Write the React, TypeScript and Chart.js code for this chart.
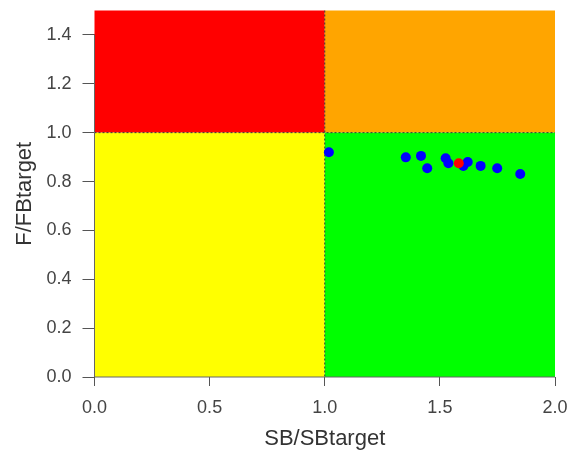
import React, { useEffect, useRef } from "react";
import { Chart, registerables } from "chart.js";

Chart.register(...registerables);

// Historical stock status points (blue)
const sbRatio = [1.018, 1.352, 1.418, 1.445, 1.525, 1.537, 1.602, 1.621, 1.677, 1.749, 1.849];
const fRatio = [0.92, 0.899, 0.905, 0.854, 0.895, 0.875, 0.864, 0.88, 0.864, 0.854, 0.831];
// Current status point (red)
const currentSb = [1.582];
const currentF = [0.875];

const xTicks = [0, 0.5, 1.0, 1.5, 2.0];
const yTicks = [0, 0.2, 0.4, 0.6, 0.8, 1.0, 1.2, 1.4];
const xRange = [0, 2];
const yRange = [0, 1.5];
const refX = 1.0;
const refY = 1.0;

const xTitle = "SB/SBtarget";
const yTitle = "F/FBtarget";

const FONT = "'Liberation Sans', Arial, Helvetica, sans-serif";

const quadrantPlugin = {
  id: "quadrants",
  beforeDatasetsDraw(chart: any) {
    const { ctx, scales } = chart;
    const xs = scales.x;
    const ys = scales.y;
    const x0 = xs.getPixelForValue(xRange[0]);
    const x1 = xs.getPixelForValue(refX);
    const x2 = xs.getPixelForValue(xRange[1]);
    const y0 = ys.getPixelForValue(yRange[0]);
    const y1 = ys.getPixelForValue(refY);
    const y2 = ys.getPixelForValue(yRange[1]);
    ctx.save();
    ctx.fillStyle = "#FF0000";
    ctx.fillRect(x0, y2, x1 - x0, y1 - y2);
    ctx.fillStyle = "#FFA500";
    ctx.fillRect(x1, y2, x2 - x1, y1 - y2);
    ctx.fillStyle = "#FFFF00";
    ctx.fillRect(x0, y1, x1 - x0, y0 - y1);
    ctx.fillStyle = "#00FF00";
    ctx.fillRect(x1, y1, x2 - x1, y0 - y1);

    ctx.strokeStyle = "#333333";
    ctx.lineWidth = 1;
    ctx.setLineDash([2, 2]);
    ctx.beginPath();
    ctx.moveTo(x1, y2);
    ctx.lineTo(x1, y0);
    ctx.moveTo(x0, y1);
    ctx.lineTo(x2, y1);
    ctx.stroke();
    ctx.setLineDash([]);

    // axis lines (R style: span first to last tick)
    ctx.strokeStyle = "#666666";
    ctx.beginPath();
    ctx.moveTo(x0, ys.getPixelForValue(yTicks[0]));
    ctx.lineTo(x0, ys.getPixelForValue(yTicks[yTicks.length - 1]));
    ctx.moveTo(xs.getPixelForValue(xTicks[0]), y0);
    ctx.lineTo(xs.getPixelForValue(xTicks[xTicks.length - 1]), y0);
    ctx.stroke();
    ctx.restore();
  },
};

export default function App() {
  const ref = useRef<HTMLCanvasElement | null>(null);
  useEffect(() => {
    document.body.style.margin = "0";
    const canvas = ref.current;
    if (!canvas) return;
    const chart = new Chart(canvas, {
      type: "scatter",
      data: {
        datasets: [
          {
            label: "current",
            data: currentSb.map((x, i) => ({ x, y: currentF[i] })),
            backgroundColor: "#FF0000",
            borderColor: "#FF0000",
            pointRadius: 5,
            borderWidth: 0,
          },
          {
            label: "history",
            data: sbRatio.map((x, i) => ({ x, y: fRatio[i] })),
            backgroundColor: "#0000FF",
            borderColor: "#0000FF",
            pointRadius: 5,
            borderWidth: 0,
          },
        ],
      },
      options: {
        responsive: false,
        animation: false,
        layout: { padding: { top: 10.5, right: 22, left: 0, bottom: 0 } },
        plugins: { legend: { display: false }, tooltip: { enabled: false } },
        scales: {
          x: {
            type: "linear",
            min: xRange[0],
            max: xRange[1],
            afterBuildTicks: (s: any) => {
              s.ticks = xTicks.map((v) => ({ value: v }));
            },
            afterFit: (s: any) => {
              s.height = 73;
              s.paddingLeft = 0;
              s.paddingRight = 0;
            },
            grid: { drawOnChartArea: false, drawTicks: true, tickLength: 9, color: "#555555" },
            border: { display: false },
            ticks: {
              padding: 11,
              color: "#444444",
              font: { family: FONT, size: 18 },
              callback: (v: any) => Number(v).toFixed(1),
              maxRotation: 0,
            },
            title: {
              display: true,
              text: xTitle,
              color: "#333333",
              font: { family: FONT, size: 22, lineHeight: 1 },
              padding: { top: 0, bottom: 0 },
            },
          },
          y: {
            type: "linear",
            min: yRange[0],
            max: yRange[1],
            afterBuildTicks: (s: any) => {
              s.ticks = yTicks.map((v) => ({ value: v }));
            },
            afterFit: (s: any) => {
              s.width = 94.5;
              s.paddingTop = 0;
              s.paddingBottom = 0;
            },
            grid: { drawOnChartArea: false, drawTicks: true, tickLength: 12, color: "#555555" },
            border: { display: false },
            ticks: {
              padding: 11,
              color: "#444444",
              font: { family: FONT, size: 18 },
              callback: (v: any) => Number(v).toFixed(1),
            },
            title: {
              display: true,
              text: yTitle,
              color: "#333333",
              font: { family: FONT, size: 22, lineHeight: 1 },
              padding: { top: 14, bottom: 0 },
            },
          },
        },
      },
      plugins: [quadrantPlugin],
    });
    return () => chart.destroy();
  }, []);
  return <canvas ref={ref} width={577} height={450} style={{ display: "block" }} />;
}
